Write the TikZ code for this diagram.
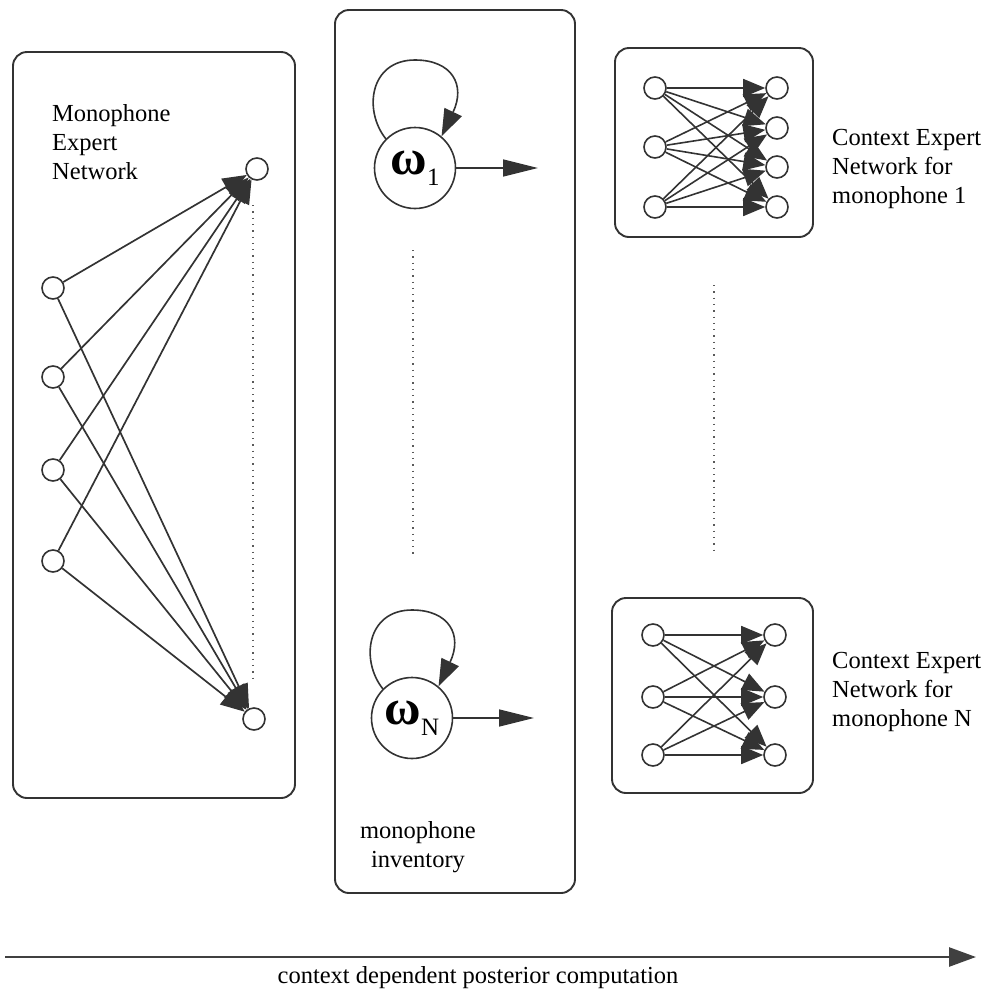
\documentclass[tikz,border=0pt]{standalone}
\usepackage{fontspec}
\setmainfont{Liberation Serif}
\usetikzlibrary{arrows.meta}
\begin{document}
\begin{tikzpicture}[x=1pt,y=-1pt,
  panel/.style={draw=black!80, line width=1.9pt, rounded corners=14pt},
  unit/.style={circle, draw=black!80, line width=1.6pt, minimum size=22pt, inner sep=0pt, fill=white},
  state/.style={circle, draw=black!80, line width=1.6pt, minimum size=81pt, inner sep=0pt},
  wire/.style={draw=black!80, line width=1.7pt, -{Triangle[length=24pt,width=19pt]}},
  cwire/.style={draw=black!80, line width=1.6pt, -{Triangle[length=22pt,width=18pt]}},
  flow/.style={draw=black!80, line width=1.6pt, -{Triangle[length=35pt,width=17pt]}},
  selfloop/.style={draw=black!80, line width=1.6pt, -{Triangle[length=27pt,width=19pt]}},
  dotline/.style={draw=black!65, line width=1.3pt, dash pattern=on 1.3pt off 5pt},
  axis/.style={draw=black!75, line width=2.6pt, -{Triangle[length=27pt,width=19pt]}},
  caption/.style={inner sep=0pt, font=\fontsize{24.5}{29}\selectfont},
]
\path[use as bounding box] (0,0) rectangle (987,989);

% ---------- monophone expert network ----------
\draw[panel] (13,52) rectangle (295,798);
\node[caption, anchor=north west, align=left] (mentext) at (52,104) {Monophone\\Expert\\Network};
\node[unit] (a1) at (53,288) {};
\node[unit] (a2) at (53,377) {};
\node[unit] (a3) at (53,470) {};
\node[unit] (a4) at (53,561) {};
\node[unit] (b1) at (257,169) {};
\node[unit] (b2) at (254,719) {};
\foreach \i in {1,...,4} {
  \foreach \o in {1,2} {
    \draw[wire] (a\i) -- (b\o);
  }
}
\coordinate (mdotA) at (253,205);
\coordinate (mdotB) at (253,680);
\draw[dotline] (mdotA) -- (mdotB);

% ---------- monophone inventory ----------
\draw[panel] (335,10) rectangle (575,893);
\newcommand{\omegalabel}[1]{{\bfseries\fontsize{50}{50}\selectfont ω}\raisebox{-11pt}{\fontsize{25}{25}\selectfont #1}}
\node[state] (w1) at (415,168) {\omegalabel{1}};
\node[state] (wN) at (412,718) {\omegalabel{N}};
\coordinate (out1) at (538,168);
\coordinate (outN) at (534,718);
\draw[flow] (w1) -- (out1);
\draw[flow] (wN) -- (outN);
\draw[selfloop] (w1.135) .. controls (363,110) and (370,60) .. (415,60)
                        .. controls (452,60) and (466,85) .. (w1.50);
\draw[selfloop] (wN.135) .. controls (360,660) and (367,610) .. (412,610)
                        .. controls (449,610) and (463,635) .. (wN.50);
\coordinate (idotA) at (413,250);
\coordinate (idotB) at (413,555);
\draw[dotline] (idotA) -- (idotB);
\node[caption, anchor=north, align=center] (invtext) at (418,821) {monophone\\inventory};

% ---------- context expert network 1 ----------
\draw[panel] (615,48) rectangle (813,237);
\node[unit] (c1) at (655,88) {};
\node[unit] (c2) at (655,147) {};
\node[unit] (c3) at (655,207) {};
\node[unit] (d1) at (777,88) {};
\node[unit] (d2) at (777,128) {};
\node[unit] (d3) at (777,167) {};
\node[unit] (d4) at (777,207) {};
\foreach \i in {1,2,3} {
  \foreach \o in {1,...,4} {
    \draw[cwire] (c\i) -- (d\o);
  }
}
\node[caption, anchor=north west, align=left] (cetext1) at (832,129) {Context Expert\\Network for\\monophone 1};

\coordinate (rdotA) at (714,285);
\coordinate (rdotB) at (714,555);
\draw[dotline] (rdotA) -- (rdotB);

% ---------- context expert network N ----------
\draw[panel] (612,598) rectangle (813,793);
\node[unit] (e1) at (653,635) {};
\node[unit] (e2) at (653,697) {};
\node[unit] (e3) at (653,755) {};
\node[unit] (f1) at (775,635) {};
\node[unit] (f2) at (775,697) {};
\node[unit] (f3) at (775,755) {};
\foreach \i in {1,2,3} {
  \foreach \o in {1,2,3} {
    \draw[cwire] (e\i) -- (f\o);
  }
}
\node[caption, anchor=north west, align=left] (cetextN) at (832,652) {Context Expert\\Network for\\monophone N};

% ---------- computation axis ----------
\coordinate (axisA) at (5,957);
\coordinate (axisB) at (976,957);
\draw[axis] (axisA) -- (axisB);
\node[caption, anchor=base] (axistext) at (478,983) {context dependent posterior computation};
\end{tikzpicture}
\end{document}
